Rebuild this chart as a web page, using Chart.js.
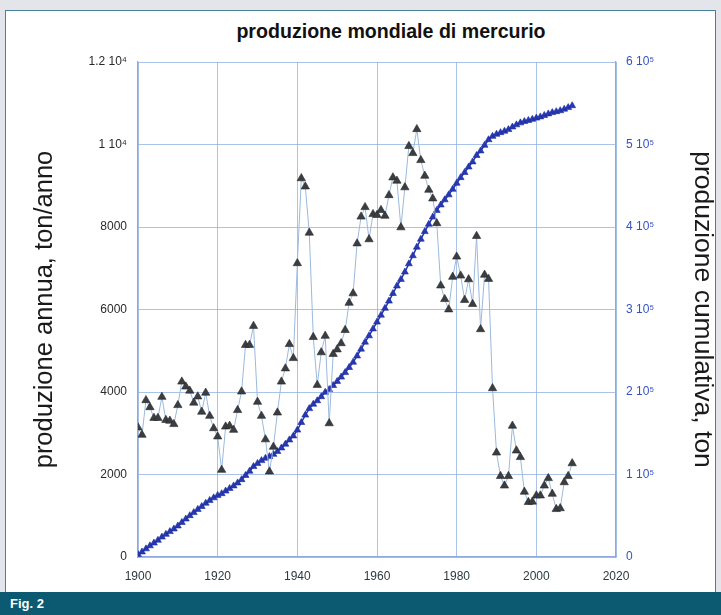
<!DOCTYPE html>
<html>
<head>
<meta charset="utf-8">
<script src="https://cdn.jsdelivr.net/npm/chart.js@4/dist/chart.umd.min.js"></script>
<style>
  html,body{margin:0;padding:0;}
  body{width:721px;height:615px;background:#e3e5ea;position:relative;overflow:hidden;font-family:"Liberation Sans",Arial,sans-serif;}
  #panel{position:absolute;left:5px;top:10px;width:709px;height:581px;background:#fff;border:1px solid #4a8198;}
  #title{position:absolute;top:20px;left:391px;transform:translateX(-50%);white-space:nowrap;font-weight:bold;font-size:19.6px;color:#111;}
  #bar{position:absolute;left:0;top:592px;width:721px;height:23px;background:#0b5a72;}
  #fig{position:absolute;left:10px;top:596px;color:#fff;font-weight:bold;font-size:13px;}
  canvas{position:absolute;left:0;top:0;}
</style>
</head>
<body>
<div id="panel"></div>
<div id="title">produzione mondiale di mercurio</div>
<div id="bar"></div>
<div id="fig">Fig. 2</div>
<canvas id="c" width="721" height="591"></canvas>
<script>
// ---- data ----
const years = [1900,1901,1902,1903,1904,1905,1906,1907,1908,1909,
1910,1911,1912,1913,1914,1915,1916,1917,1918,1919,
1920,1921,1922,1923,1924,1925,1926,1927,1928,1929,
1930,1931,1932,1933,1934,1935,1936,1937,1938,1939,
1940,1941,1942,1943,1944,1945,1946,1947,1948,1949,
1950,1951,1952,1953,1954,1955,1956,1957,1958,1959,
1960,1961,1962,1963,1964,1965,1966,1967,1968,1969,
1970,1971,1972,1973,1974,1975,1976,1977,1978,1979,
1980,1981,1982,1983,1984,1985,1986,1987,1988,1989,
1990,1991,1992,1993,1994,1995,1996,1997,1998,1999,
2000,2001,2002,2003,2004,2005,2006,2007,2008,2009];

// annual production, ton/year
const annual = [3140,2960,3800,3630,3370,3370,3880,3320,3300,3220,
3680,4250,4130,4030,3740,3890,3520,3980,3420,3120,
2920,2110,3160,3180,3080,3560,4010,5140,5140,5600,
3760,3420,2850,2070,2670,3500,4250,4570,5160,4820,
7120,9180,8980,7860,5330,4170,4960,5360,3240,4920,
5030,5180,5500,6160,6390,7600,8250,8480,7700,8310,
8290,8410,8270,8770,9200,9120,7990,8960,9960,9790,
10370,9620,9240,8900,8690,8090,6580,6250,6000,6790,
7280,6820,6230,6730,6130,7780,5520,6840,6740,4090,
2530,1960,1730,1960,3180,2580,2420,1580,1330,1340,
1490,1490,1730,1910,1530,1160,1180,1810,1960,2270];

// cumulative production, ton
const cumulative = [3140,6100,9900,13530,16900,20270,24150,27470,30770,33990,
37670,41920,46050,50080,53820,57710,61230,65210,68630,71750,
74670,76780,79940,83120,86200,89760,93770,98910,104050,109650,
113410,116830,119680,121750,124420,127920,132170,136740,141900,146720,
153840,163020,172000,179860,185190,189360,194320,199680,202920,207840,
212870,218050,223550,229710,236100,243700,251950,260430,268130,276440,
284730,293140,301410,310180,319380,328500,336490,345450,355410,365200,
375570,385190,394430,403330,412020,420110,426690,432940,438940,445730,
453010,459830,466060,472790,478920,486700,492220,499060,505800,509890,
512420,514380,516110,518070,521250,523830,526250,527830,529160,530500,
531990,533480,535210,537120,538650,539810,540990,542800,544760,547030];

const xTicks = [1900,1920,1940,1960,1980,2000,2020];
const leftTicks = [0,2000,4000,6000,8000,10000,12000];
const leftTickLabels = ['0','2000','4000','6000','8000','1 10\u2074','1.2 10\u2074'];
const rightTicks = [0,100000,200000,300000,400000,500000,600000];
const rightTickLabels = ['0','1 10\u2075','2 10\u2075','3 10\u2075','4 10\u2075','5 10\u2075','6 10\u2075'];

// ---- chart ----
const FONT = '"Liberation Sans", Arial, sans-serif';
const gridCol = 'rgba(140,175,225,0.75)';
const frameCol = '#8ea9df';

new Chart(document.getElementById('c'), {
  type: 'line',
  data: {
    datasets: [
      {
        label: 'produzione annua',
        data: years.map((y, i) => ({x: y, y: annual[i]})),
        yAxisID: 'y',
        borderColor: '#9bb9dc',
        borderWidth: 1,
        pointStyle: 'triangle',
        pointRadius: 4.8,
        pointBackgroundColor: '#3b3d40',
        pointBorderColor: '#26282a',
        pointBorderWidth: 0.6,
        order: 0
      },
      {
        label: 'produzione cumulativa',
        data: years.map((y, i) => ({x: y, y: cumulative[i]})),
        yAxisID: 'y2',
        borderColor: '#2334ae',
        borderWidth: 1.5,
        pointStyle: 'triangle',
        pointRadius: 4,
        pointBackgroundColor: '#2638b2',
        pointBorderColor: '#1d2c9c',
        pointBorderWidth: 0.6,
        order: 1
      }
    ]
  },
  options: {
    responsive: false,
    animation: false,
    devicePixelRatio: 1,
    layout: {padding: {top: 62, left: 0, right: 0, bottom: 0}},
    plugins: {legend: {display: false}, tooltip: {enabled: false}, title: {display: false}},
    scales: {
      x: {
        type: 'linear',
        position: 'bottom',
        min: 1900, max: 2020,
        afterBuildTicks: (ax) => { ax.ticks = xTicks.map(v => ({value: v})); },
        afterFit: (ax) => { ax.height = 34; },
        grid: {color: gridCol, lineWidth: 1, drawTicks: false},
        border: {color: frameCol, width: 1.2},
        ticks: {padding: 12, color: '#2c3a40', font: {family: FONT, size: 12}, callback: (v) => String(v), maxRotation: 0}
      },
      y: {
        type: 'linear',
        position: 'left',
        min: 0, max: 12000,
        afterBuildTicks: (ax) => { ax.ticks = leftTicks.map(v => ({value: v})); },
        afterFit: (ax) => { ax.width = 138; },
        grid: {color: gridCol, lineWidth: 1, drawTicks: false},
        border: {color: frameCol, width: 1.2},
        ticks: {padding: 11, color: '#2a2a2a', font: {family: FONT, size: 12},
                callback: (v) => leftTickLabels[leftTicks.indexOf(v)]},
        title: {display: true, text: 'produzione annua, ton/anno', color: '#1a1a1a',
                font: {family: FONT, size: 25.5, lineHeight: 1.2}, padding: {top: 30, bottom: 0}}
      },
      y2: {
        type: 'linear',
        position: 'right',
        min: 0, max: 600000,
        afterBuildTicks: (ax) => { ax.ticks = rightTicks.map(v => ({value: v})); },
        afterFit: (ax) => { ax.width = 105; },
        grid: {display: false, drawTicks: false},
        border: {color: frameCol, width: 1.2},
        ticks: {padding: 10, color: '#3652c2', font: {family: FONT, size: 12},
                callback: (v) => rightTickLabels[rightTicks.indexOf(v)]},
        title: {display: true, text: 'produzione cumulativa, ton', color: '#1a1a1a',
                font: {family: FONT, size: 26.5, lineHeight: 1.2}, padding: {top: 3, bottom: 0}}
      }
    }
  }
});
</script>
</body>
</html>
